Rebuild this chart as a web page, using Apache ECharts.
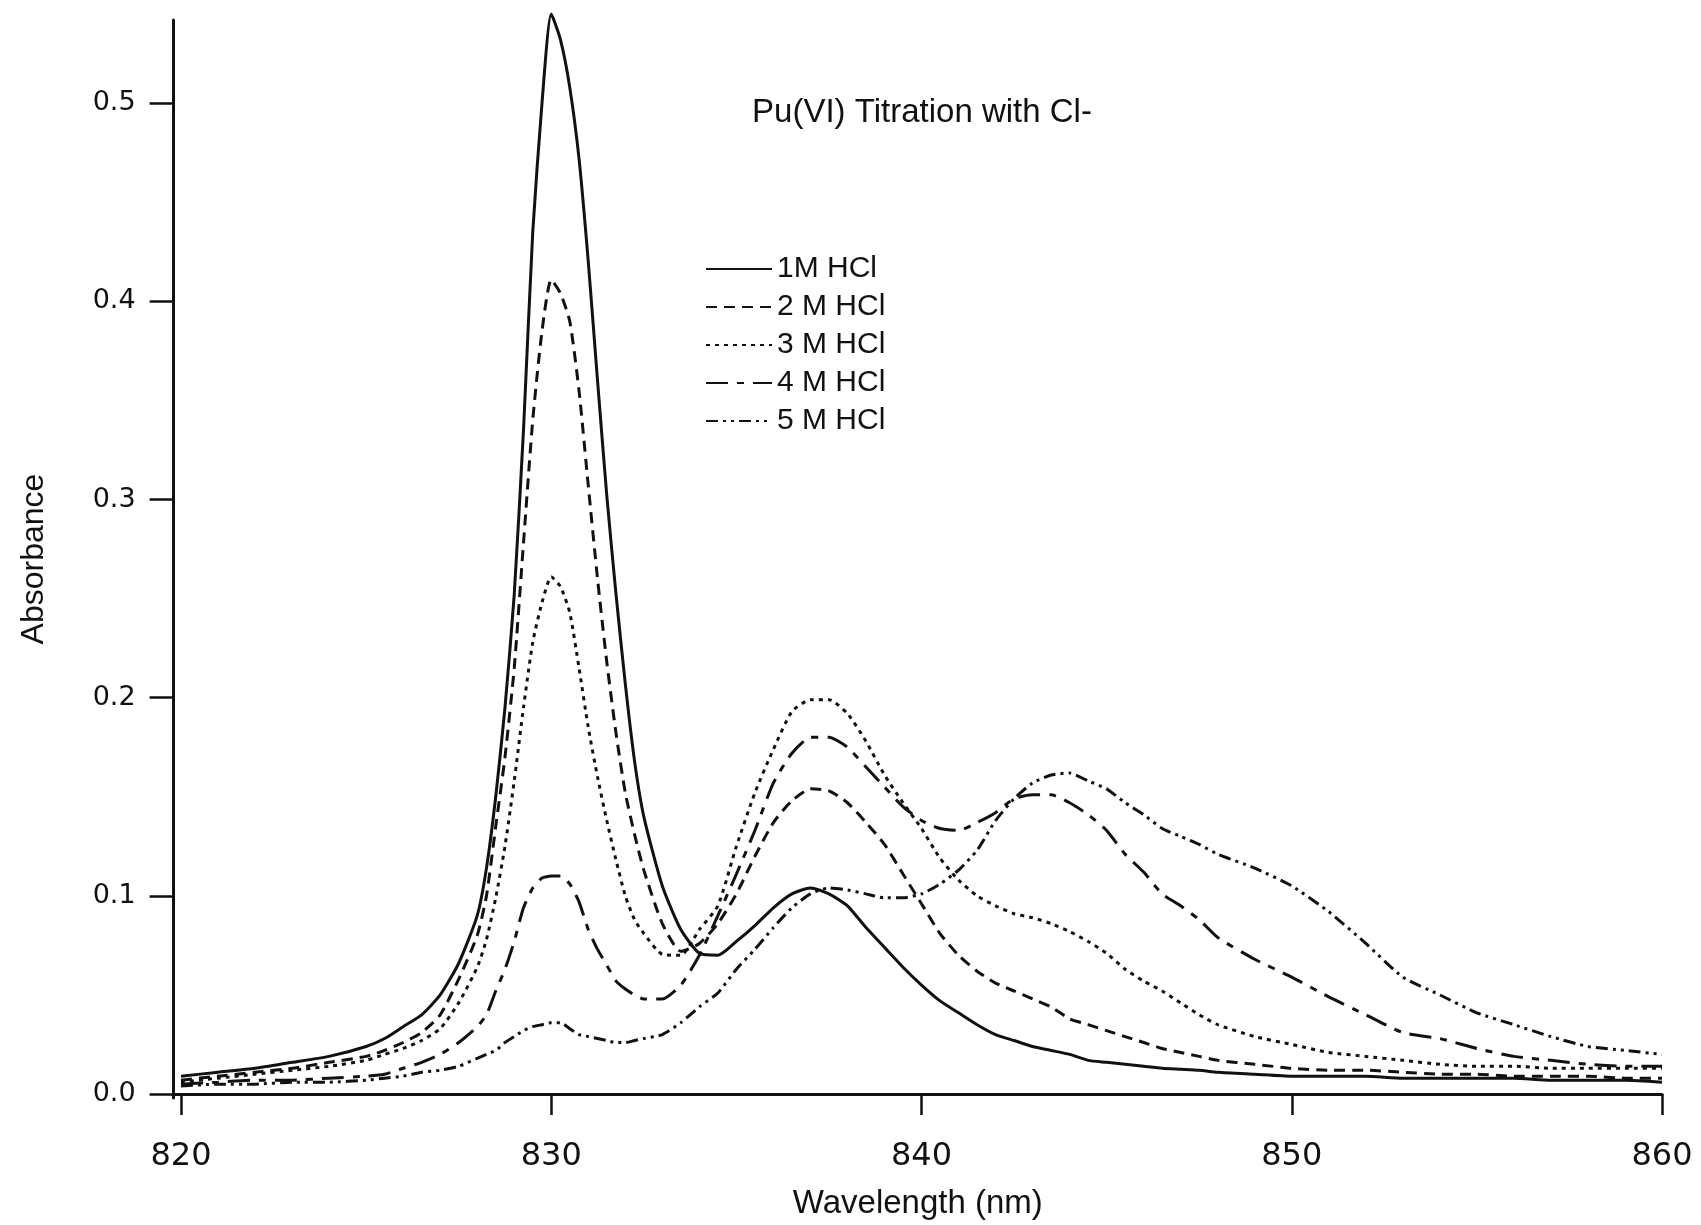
<!DOCTYPE html>
<html>
<head>
<meta charset="utf-8">
<script src="https://cdn.jsdelivr.net/npm/echarts@6/dist/echarts.min.js"></script>
<style>
html,body{margin:0;padding:0;background:#fff;}
#chart{width:1701px;height:1225px;}
</style>
</head>
<body>
<div id="chart"></div>
<script>
// Wavelength grid (nm)
const wavelength = [820,821,822,823,824,825,825.5,826,826.5,827,827.5,
  828,828.25,828.5,828.75,829,829.25,829.5,829.75,830,830.25,830.5,830.75,831,831.25,831.5,831.75,832,832.25,832.5,
  833,833.5,834,834.5,835,835.5,836,836.5,837,837.5,838,838.5,839,839.5,840,840.5,841,841.5,842,842.5,843,843.5,844,844.5,845,845.5,846,846.5,847,847.5,848,
  849,850,851,852,853,854,855,856,857,858,859,860];

// Absorbance values
const hcl1M = [0.009,0.011,0.013,0.016,0.019,0.024,0.028,0.034,0.040,0.050,0.066,
  0.090,0.114,0.150,0.195,0.252,0.335,0.435,0.500,0.545,0.532,0.508,0.472,0.420,0.360,0.302,0.252,0.207,0.168,0.140,
  0.105,0.083,0.071,0.070,0.077,0.085,0.094,0.101,0.104,0.101,0.095,0.084,0.074,0.064,0.055,0.047,0.041,0.035,0.030,0.027,0.024,0.022,0.020,0.017,0.016,0.015,0.014,0.013,0.0125,0.012,0.011,
  0.010,0.009,0.009,0.009,0.008,0.008,0.008,0.008,0.007,0.007,0.007,0.006];

const hcl2M = [0.007,0.009,0.011,0.013,0.016,0.019,0.022,0.026,0.031,0.040,0.058,
  0.080,0.100,0.135,0.170,0.215,0.278,0.340,0.385,0.411,0.404,0.390,0.355,0.307,0.260,0.218,0.182,0.152,0.131,0.113,
  0.086,0.072,0.076,0.086,0.101,0.120,0.137,0.148,0.154,0.153,0.147,0.137,0.126,0.111,0.096,0.081,0.070,0.062,0.056,0.052,0.048,0.044,0.038,0.035,0.032,0.029,0.026,0.023,0.021,0.019,0.017,
  0.015,0.013,0.012,0.012,0.011,0.010,0.010,0.009,0.009,0.009,0.008,0.008];

const hcl3M = [0.006,0.008,0.010,0.012,0.014,0.017,0.020,0.023,0.027,0.033,0.046,
  0.064,0.078,0.099,0.125,0.158,0.195,0.228,0.248,0.261,0.256,0.243,0.215,0.185,0.160,0.138,0.118,0.100,0.088,0.081,
  0.0705,0.070,0.083,0.095,0.125,0.152,0.174,0.193,0.199,0.199,0.192,0.178,0.161,0.147,0.134,0.119,0.108,0.100,0.095,0.091,0.089,0.086,0.082,0.077,0.071,0.063,0.057,0.052,0.046,0.040,0.035,
  0.029,0.025,0.021,0.019,0.017,0.015,0.014,0.014,0.013,0.013,0.013,0.013];

const hcl4M = [0.005,0.006,0.007,0.007,0.008,0.009,0.010,0.013,0.016,0.020,0.026,
  0.034,0.040,0.052,0.063,0.077,0.094,0.104,0.109,0.110,0.110,0.106,0.097,0.083,0.073,0.065,0.057,0.053,0.050,0.048,
  0.048,0.055,0.070,0.090,0.111,0.133,0.157,0.172,0.180,0.180,0.175,0.165,0.155,0.145,0.138,0.134,0.133,0.137,0.142,0.149,0.151,0.151,0.147,0.141,0.133,0.121,0.112,0.101,0.095,0.088,0.079,
  0.068,0.059,0.049,0.040,0.031,0.028,0.023,0.019,0.017,0.015,0.014,0.014];

const hcl5M = [0.004,0.005,0.005,0.006,0.006,0.007,0.008,0.009,0.011,0.012,0.014,
  0.018,0.020,0.022,0.026,0.029,0.032,0.034,0.035,0.036,0.036,0.033,0.030,0.029,0.028,0.027,0.026,0.026,0.027,0.028,
  0.030,0.036,0.044,0.051,0.063,0.073,0.084,0.094,0.101,0.104,0.103,0.101,0.099,0.099,0.101,0.106,0.113,0.123,0.138,0.149,0.157,0.161,0.162,0.158,0.154,0.147,0.141,0.134,0.130,0.126,0.121,
  0.114,0.105,0.092,0.076,0.059,0.050,0.041,0.035,0.029,0.024,0.022,0.020];

const seriesNames = ['1M HCl', '2 M HCl', '3 M HCl', '4 M HCl', '5 M HCl'];
const xTicks = [820, 830, 840, 850, 860];
const yTicks = [0, 0.1, 0.2, 0.3, 0.4, 0.5];
const titleText = 'Pu(VI) Titration with Cl-';

const allValues = [hcl1M, hcl2M, hcl3M, hcl4M, hcl5M];
const dashTypes = ['solid', [11, 7], [4, 5], [22, 9, 7, 9], [12, 5, 3, 5, 3, 5]];

const ink = '#111111';
const chart = echarts.init(document.getElementById('chart'), null, {renderer: 'canvas'});

const series = allValues.map((vals, i) => ({
  name: seriesNames[i],
  type: 'line',
  data: wavelength.map((w, j) => [w, vals[j]]),
  showSymbol: false,
  symbol: 'none',
  smooth: 0.2,
  clip: false,
  lineStyle: {color: ink, width: 3, type: dashTypes[i]},
  itemStyle: {color: ink},
  emphasis: {disabled: true}
}));

chart.setOption({
  animation: false,
  backgroundColor: '#ffffff',
  title: {
    text: titleText,
    left: 922,
    top: 113,
    padding: 0,
    textAlign: 'center',
    textVerticalAlign: 'middle',
    textStyle: {fontFamily: 'Liberation Sans', fontSize: 33, fontWeight: 'normal', color: ink}
  },
  legend: {
    orient: 'vertical',
    left: 705,
    top: 254,
    padding: 0,
    itemWidth: 66,
    itemHeight: 14,
    itemGap: 8,
    itemStyle: {opacity: 0},
    data: seriesNames,
    textStyle: {fontFamily: 'Liberation Sans', fontSize: 30, color: ink, lineHeight: 30}
  },
  grid: {left: 173.6, right: 39, top: 20, bottom: 124, containLabel: false},
  xAxis: {
    type: 'value',
    min: 819.8,
    max: 860,
    name: 'Wavelength (nm)',
    nameLocation: 'middle',
    nameGap: 89,
    nameTextStyle: {fontFamily: 'Liberation Sans', fontSize: 33, color: ink},
    axisLine: {show: true, lineStyle: {color: ink, width: 3}},
    axisTick: {show: true, length: 21, lineStyle: {color: ink, width: 2.5}, customValues: xTicks},
    axisLabel: {margin: 43, fontFamily: 'DejaVu Sans', fontSize: 32, color: ink, customValues: xTicks},
    splitLine: {show: false}
  },
  yAxis: {
    type: 'value',
    min: -0.002,
    max: 0.542,
    name: 'Absorbance',
    nameLocation: 'middle',
    nameRotate: 90,
    nameGap: 123,
    nameTextStyle: {fontFamily: 'Liberation Sans', fontSize: 32, color: ink},
    axisLine: {show: true, lineStyle: {color: ink, width: 3}},
    axisTick: {show: true, length: 24, lineStyle: {color: ink, width: 2.5}, customValues: yTicks},
    axisLabel: {margin: 38, fontFamily: 'DejaVu Sans', fontSize: 27, color: ink, customValues: yTicks,
      formatter: v => v.toFixed(1)},
    splitLine: {show: false}
  },
  series: series
});
</script>
</body>
</html>
